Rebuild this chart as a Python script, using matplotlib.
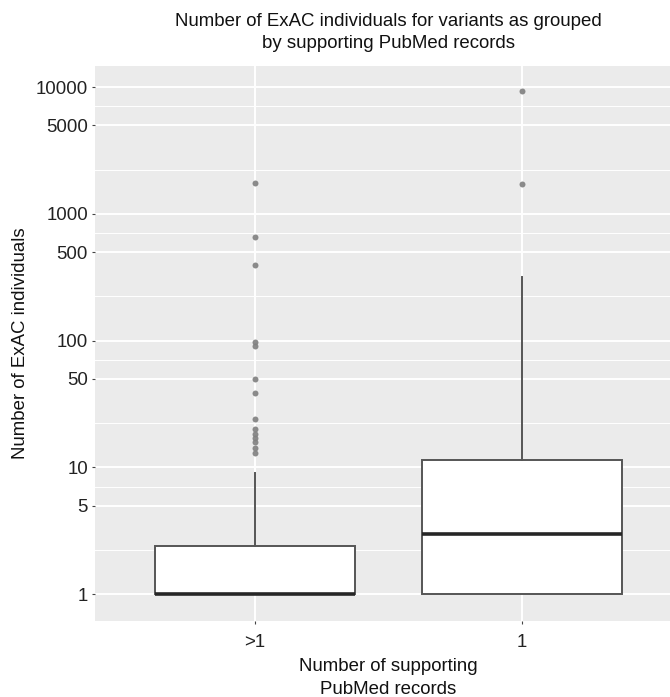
import matplotlib
matplotlib.use("Agg")
import matplotlib.pyplot as plt
from matplotlib.ticker import FixedLocator, NullLocator, NullFormatter
import numpy as np

plt.rcParams['font.family'] = ['Liberation Sans', 'DejaVu Sans']

# ---- data ----
categories = [">1", "1"]
q1_vals = [1.0, 1.0]
median_vals = [1.0, 3.0]
q3_vals = [2.4, 11.5]
whisker_low = [1.0, 1.0]
whisker_high = [9.0, 315.0]
outliers_gt1 = [1740, 655, 393, 98, 91, 50, 39, 24, 20, 18.5, 17, 15.8, 14.2, 13]
outliers_1 = [9300, 1730]
y_breaks = [1, 5, 10, 50, 100, 500, 1000, 5000, 10000]
y_tick_labels = ["1", "5", "10", "50", "100", "500", "1000", "5000", "10000"]

title_lines = ["Number of ExAC individuals for variants as grouped",
               "by supporting PubMed records"]
x_title_lines = ["Number of supporting", "PubMed records"]
y_title = "Number of ExAC individuals"

W, H = 670, 697
fig = plt.figure(figsize=(W / 100, H / 100), dpi=100)
fig.patch.set_facecolor('white')

# panel in pixel coords: left 95, right 682 (cropped by figure), top 66, bottom 621
ax = fig.add_axes([95 / W, 1 - 621 / H, (682 - 95) / W, (621 - 66) / H])
ax.set_facecolor('#EBEBEB')
for s in ax.spines.values():
    s.set_visible(False)

stats = []
fliers_all = [outliers_gt1, outliers_1]
for i, c in enumerate(categories):
    stats.append(dict(label=c, q1=q1_vals[i], med=median_vals[i], q3=q3_vals[i],
                      whislo=whisker_low[i], whishi=whisker_high[i],
                      fliers=np.array(fliers_all[i])))

edge = '#555555'
ax.bxp(stats, positions=[1, 2], widths=0.75, showcaps=False, patch_artist=True,
       boxprops=dict(facecolor='white', edgecolor=edge, linewidth=1.4),
       whiskerprops=dict(color=edge, linewidth=1.4),
       medianprops=dict(color='#262626', linewidth=2.6, solid_capstyle='butt'),
       flierprops=dict(marker='o', markersize=4.3, markerfacecolor='#7f7f7f',
                       markeredgecolor='none', alpha=0.9))

ax.set_yscale('log')
ax.set_ylim(10 ** -0.2106, 10 ** 4.1656)
ax.set_xlim(0.4, 2.6)

ax.yaxis.set_major_locator(FixedLocator(y_breaks))
ax.set_yticklabels(y_tick_labels)
minor = [np.sqrt(a * b) for a, b in zip(y_breaks[:-1], y_breaks[1:])]
ax.yaxis.set_minor_locator(FixedLocator(minor))
ax.yaxis.set_minor_formatter(NullFormatter())
ax.xaxis.set_minor_locator(NullLocator())
ax.set_xticks([1, 2])
ax.set_xticklabels(categories)

ax.set_axisbelow(True)
ax.grid(which='major', color='white', linewidth=1.42)
ax.grid(which='minor', axis='y', color='white', linewidth=0.71)

ax.tick_params(axis='both', which='major', length=2.5, width=0.8, color='#444444',
               labelsize=13.4, labelcolor='#222222')
ax.tick_params(axis='y', which='minor', length=0)
ax.tick_params(axis='y', pad=2.5)
ax.tick_params(axis='x', pad=7.0)

cx = 388.5 / W
fs = 13.4
fig.text(cx, 1 - 26.5 / H, title_lines[0], ha='center', va='baseline', fontsize=fs, color='#111111')
fig.text(cx, 1 - 48.5 / H, title_lines[1], ha='center', va='baseline', fontsize=fs, color='#111111')
fig.text(cx, 1 - 671 / H, x_title_lines[0], ha='center', va='baseline', fontsize=fs, color='#111111')
fig.text(cx, 1 - 693.5 / H, x_title_lines[1], ha='center', va='baseline', fontsize=fs, color='#111111')
fig.text(20.3 / W, 1 - 343.5 / H, y_title, rotation=90, ha='center', va='center',
         fontsize=fs, color='#111111')

fig.savefig('out.png', dpi=100, facecolor='white')
